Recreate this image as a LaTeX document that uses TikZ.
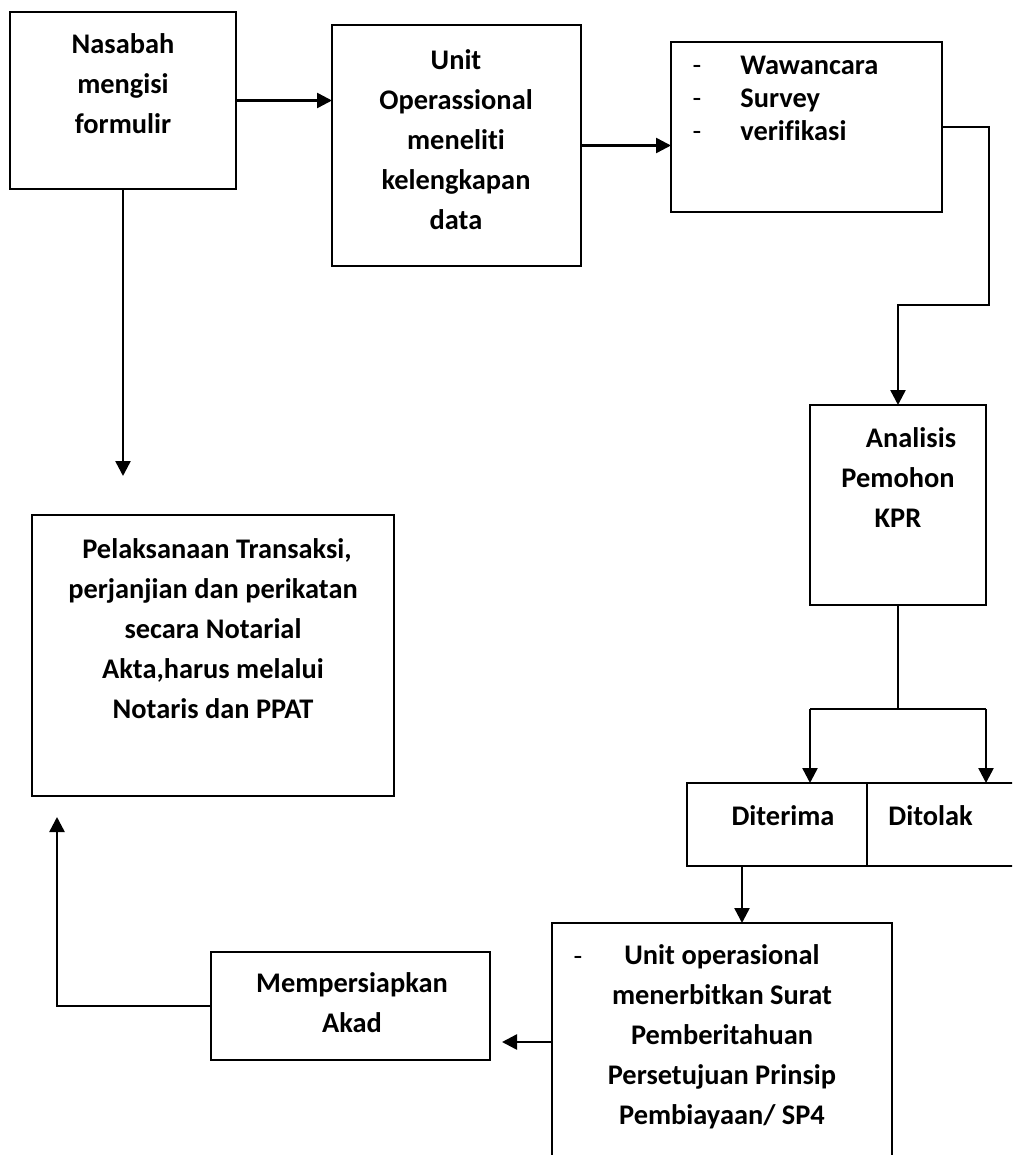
\documentclass[tikz,border=0pt]{standalone}
\usepackage{fontspec}
\setmainfont[Ligatures=NoCommon]{Carlito}
\usetikzlibrary{arrows.meta,calc}

\begin{document}
\begin{tikzpicture}[x=0.5pt,y=-0.5pt,
    procbox/.style={draw=black,line width=1pt,inner sep=0pt,outer sep=0pt},
    flow/.style={-{Triangle[length=7.5pt,width=7.5pt]},line width=1.25pt},
    link/.style={line width=1.25pt},
    lbl/.style={font=\bfseries\fontsize{14.2}{20}\selectfont,align=center,inner sep=0pt},
    item/.style={font=\bfseries\fontsize{14.2}{16.5}\selectfont,anchor=base west,inner sep=0pt},
    bullet/.style={font=\fontsize{14.2}{16.5}\selectfont,anchor=base,inner sep=0pt}]
    \clip (0,0) rectangle (1012,1155);
    \fill[white] (0,0) rectangle (1012,1155);

    \node[procbox,minimum width=113pt,minimum height=88.5pt] (nasabah) at (123,100.5) {};
    \node[procbox,minimum width=124.5pt,minimum height=120.5pt] (unitop) at (456.5,145.5) {};
    \node[procbox,minimum width=135.5pt,minimum height=85pt] (survey) at (806.5,127) {};
    \node[procbox,minimum width=88pt,minimum height=100pt] (analisis) at (898,505) {};
    \node[procbox,minimum width=90pt,minimum height=41.5pt] (diterima) at (777,824.5) {};
    \node[procbox,minimum width=86.5pt,minimum height=41.5pt] (ditolak) at (953.5,824.5) {};
    \node[procbox,minimum width=170pt,minimum height=126pt] (sp4) at (722,1049) {};
    \node[procbox,minimum width=139.5pt,minimum height=54pt] (akad) at (350.5,1006) {};
    \node[procbox,minimum width=181pt,minimum height=140.5pt] (notaris) at (213,655.5) {};

    \node[lbl] (t-nasabah) at (123,84) {Nasabah\\mengisi\\formulir};
    \node[lbl] (t-unitop) at (456,140) {Unit\\Operassional\\meneliti\\kelengkapan\\data};
    \node[bullet] (d1) at (697,75) {-};
    \node[bullet] (d2) at (697,108) {-};
    \node[bullet] (d3) at (697,141) {-};
    \node[item] (i1) at (740,75) {Wawancara};
    \node[item] (i2) at (740,108) {Survey};
    \node[item] (i3) at (740,141) {verifikasi};
    \node[lbl] (t-analisis) at (898,478) {\hspace*{13pt}Analisis\\Pemohon\\KPR};
    \node[lbl] (t-diterima) at (783,816) {Diterima};
    \node[lbl,anchor=west] (t-ditolak) at (888,816) {Ditolak};
    \node[bullet] (d4) at (578,965) {-};
    \node[lbl] (t-sp4) at (722,1037) {Unit operasional\\menerbitkan Surat\\Pemberitahuan\\Persetujuan Prinsip\\Pembiayaan/ SP4};
    \node[lbl] (t-akad) at (352,1003) {Mempersiapkan\\Akad};
    \node[lbl] (t-notaris) at (213,629) {\hspace*{4pt}Pelaksanaan Transaksi,\\perjanjian dan perikatan\\secara Notarial\\Akta,harus melalui\\Notaris dan PPAT};

    \coordinate (downend) at (123,476);
    \coordinate (turn) at (989,305);
    \coordinate (split) at (898,709);
    \coordinate (forkL) at (810,709);
    \coordinate (forkR) at (986,709);
    \coordinate (accept) at (742,866);
    \coordinate (akadtip) at (502,1042);
    \coordinate (upend) at (57,817);

    \draw[flow] (nasabah.east) -- (nasabah.east -| unitop.west);
    \draw[flow] (unitop.east) -- (unitop.east -| survey.west);
    \draw[flow] (survey.east) -| (turn) -| (analisis.north);
    \draw[flow] (nasabah.south) -- (downend);
    \draw[link] (analisis.south) -- (split);
    \draw[link] (forkL) -- (forkR);
    \draw[flow] (forkL) -- (forkL |- diterima.north);
    \draw[flow] (forkR) -- (forkR |- ditolak.north);
    \draw[flow] (accept) -- (accept |- sp4.north);
    \draw[flow] (sp4.west |- akadtip) -- (akadtip);
    \draw[flow] (akad.west) -| (upend);
\end{tikzpicture}
\end{document}
